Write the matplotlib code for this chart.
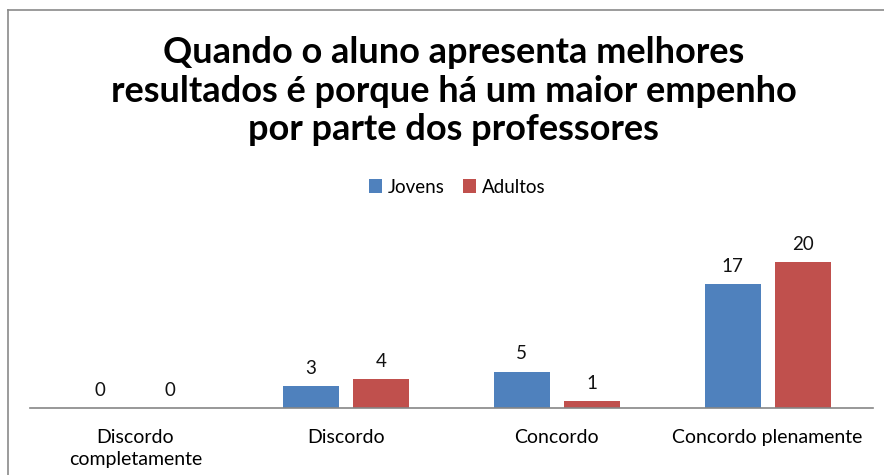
import matplotlib.pyplot as plt
import numpy as np
from matplotlib.lines import Line2D

plt.rcParams['font.family'] = ['Lato', 'DejaVu Sans']

categories = ['Discordo\ncompletamente', 'Discordo', 'Concordo', 'Concordo plenamente']
jovens = [0, 3, 5, 17]
adultos = [0, 4, 1, 20]
series_names = ['Jovens', 'Adultos']
title = ('Quando o aluno apresenta melhores\n'
         'resultados é porque há um maior empenho\n'
         'por parte dos professores')

blue = '#4F81BD'
red = '#C0504D'

fig = plt.figure(figsize=(8.84, 4.75), dpi=100)
ax = fig.add_axes([30 / 884, 67 / 475, 843 / 884, 175.2 / 475])

x = np.arange(len(categories))
w = 0.265
off = 0.166
b1 = ax.bar(x - off, jovens, w, color=blue, label=series_names[0])
b2 = ax.bar(x + off, adultos, w, color=red, label=series_names[1])

for bars in (b1, b2):
    for r in bars:
        ax.annotate(str(int(r.get_height())),
                    (r.get_x() + r.get_width() / 2, r.get_height()),
                    xytext=(0, 6.5), textcoords='offset points',
                    ha='center', va='bottom', fontsize=13.5, color='#111111')

ax.set_xlim(-0.5, 3.5)
ax.set_ylim(0, 24)
ax.set_yticks([])
ax.set_xticks(x)
ax.set_xticklabels(categories, fontsize=14, linespacing=1.35)
ax.tick_params(axis='x', length=0, pad=15)
for s in ('left', 'right', 'top'):
    ax.spines[s].set_visible(False)
ax.spines['bottom'].set_color('#868686')
ax.spines['bottom'].set_linewidth(1.2)

fig.text(0.513, 1 - 91 / 475, title, ha='center', va='center',
         fontsize=26, fontweight='bold', linespacing=1.22)

fig.legend(handles=[b1, b2], labels=series_names, loc='center',
           bbox_to_anchor=(0.517, 1 - 187 / 475), ncol=2, frameon=False,
           fontsize=13.5, handlelength=0.7, handleheight=0.7,
           handletextpad=0.3, columnspacing=1.0)

fig.add_artist(Line2D([8 / 884, 8 / 884], [0, 1 - 10 / 475],
                      transform=fig.transFigure, color='#8a8a8a', lw=1.2))
fig.add_artist(Line2D([8 / 884, 1], [1 - 10 / 475, 1 - 10 / 475],
                      transform=fig.transFigure, color='#8a8a8a', lw=1.2))

fig.savefig('out.png', dpi=100)
